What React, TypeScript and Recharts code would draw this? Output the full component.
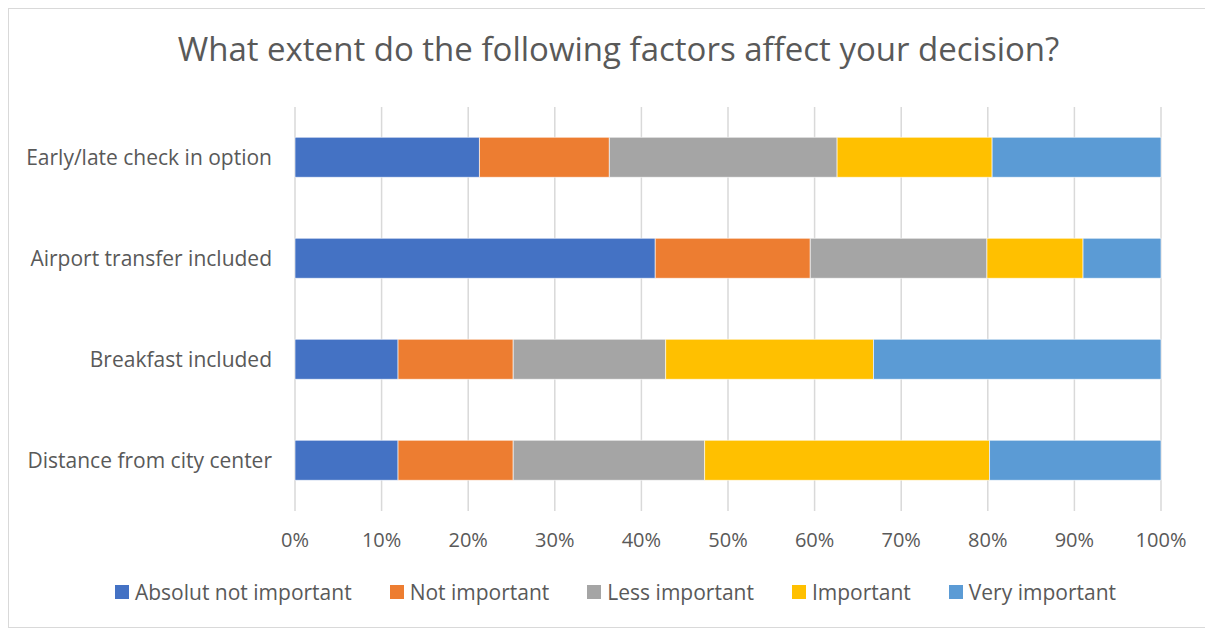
import { BarChart, Bar, XAxis, YAxis, CartesianGrid, Legend } from 'recharts';

const categories = [
  'Early/late check in option',
  'Airport transfer included',
  'Breakfast included',
  'Distance from city center',
];

// share of answers per factor, in percent
const absolutNotImportant = [21.3, 41.6, 11.9, 11.9];
const notImportant = [15.0, 17.9, 13.3, 13.3];
const lessImportant = [26.3, 20.4, 17.6, 22.1];
const important = [17.9, 11.1, 24.0, 32.9];
const veryImportant = [19.5, 9.0, 33.2, 19.8];

const xTicks = [0, 0.1, 0.2, 0.3, 0.4, 0.5, 0.6, 0.7, 0.8, 0.9, 1];

const series = [
  { key: 'absolut', name: 'Absolut not important', color: '#4472C4' },
  { key: 'not', name: 'Not important', color: '#ED7D31' },
  { key: 'less', name: 'Less important', color: '#A5A5A5' },
  { key: 'important', name: 'Important', color: '#FFC000' },
  { key: 'very', name: 'Very important', color: '#5B9BD5' },
];

const data = categories.map((name, i) => ({
  name,
  absolut: absolutNotImportant[i],
  not: notImportant[i],
  less: lessImportant[i],
  important: important[i],
  very: veryImportant[i],
}));

const font = '"Open Sans", sans-serif';
const textColor = '#595959';

function renderLegend() {
  return (
    <div
      style={{
        display: 'flex',
        justifyContent: 'center',
        gap: 38,
        fontFamily: font,
        fontSize: 21,
        color: textColor,
        paddingLeft: 10,
      }}
    >
      {series.map((s) => (
        <div key={s.key} style={{ display: 'flex', alignItems: 'center' }}>
          <span style={{ width: 14, height: 14, background: s.color, marginRight: 6, display: 'inline-block' }} />
          <span>{s.name}</span>
        </div>
      ))}
    </div>
  );
}

export default function App() {
  return (
    <div
      style={{
        position: 'relative',
        width: 1212,
        height: 618,
        border: '1px solid #d9d9d9',
        background: '#fff',
      }}
    >
      <div
        style={{
          position: 'absolute',
          top: 17,
          left: 0,
          width: 1203,
          textAlign: 'center',
          fontFamily: font,
          fontSize: 33,
          color: textColor,
          lineHeight: 'normal',
          paddingLeft: 8,
        }}
      >
        What extent do the following factors affect your decision?
      </div>
      <BarChart
        width={1203}
        height={618}
        data={data}
        layout="vertical"
        stackOffset="expand"
        barCategoryGap="30%"
        margin={{ top: 98, right: 51, left: 0, bottom: 76 }}
      >
        <CartesianGrid horizontal={false} stroke="#d9d9d9" strokeWidth={1.5} />
        <XAxis
          type="number"
          domain={[0, 1]}
          ticks={xTicks}
          tickFormatter={(v: number) => `${Math.round(v * 100)}%`}
          axisLine={false}
          tickLine={false}
          tickSize={0}
          tickMargin={22}
          height={40}
          tick={{ fill: textColor, fontSize: 20, fontFamily: font }}
        />
        <YAxis
          type="category"
          dataKey="name"
          width={286}
          axisLine={false}
          tickLine={false}
          tickSize={0}
          tickMargin={23}
          tick={{ fill: textColor, fontSize: 21, fontFamily: font }}
        />
        <Legend
          verticalAlign="middle"
          align="center"
          layout="horizontal"
          content={renderLegend}
          wrapperStyle={{ top: 569, left: 0, width: 1203 }}
        />
        {series.map((s) => (
          <Bar
            key={s.key}
            dataKey={s.key}
            name={s.name}
            stackId="a"
            fill={s.color}
            stroke="#ffffff"
            strokeOpacity={0.6}
            strokeWidth={1}
            isAnimationActive={false}
          />
        ))}
      </BarChart>
    </div>
  );
}
